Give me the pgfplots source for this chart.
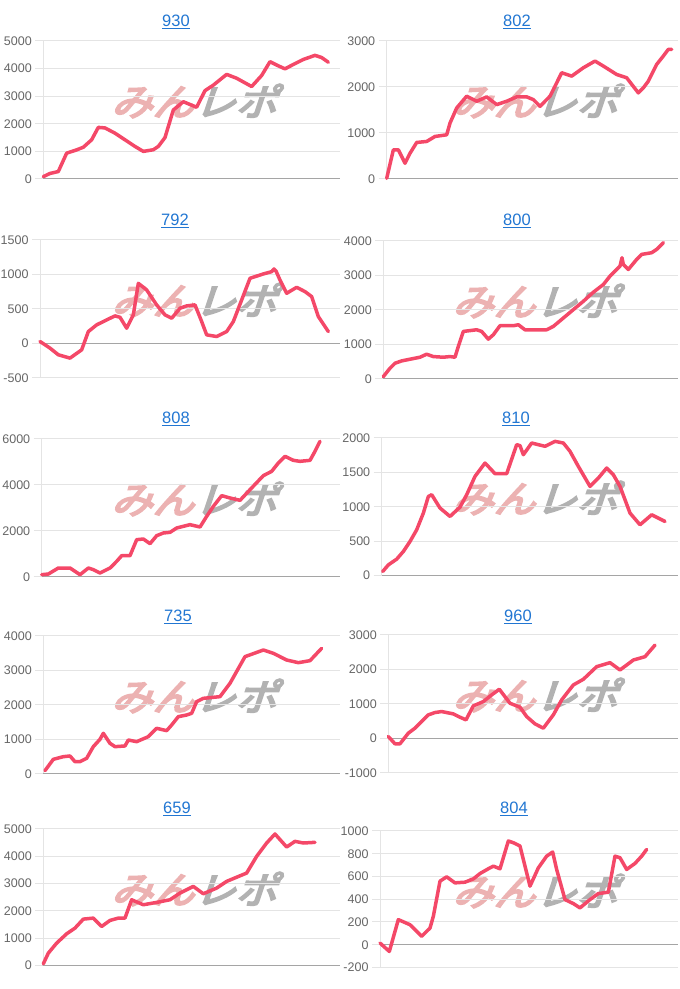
\documentclass[border=0pt]{standalone}
\usepackage{pgfplots}
\pgfplotsset{compat=1.18}
\usepackage{fontspec}
\setmainfont{Liberation Sans}
\newfontfamily\cjk[FakeBold=5,FakeSlant=0.3]{Noto Sans CJK JP}
\definecolor{gridc}{RGB}{228,228,228}
\definecolor{zeroc}{RGB}{165,165,165}
\definecolor{tickc}{RGB}{102,102,102}
\definecolor{lc}{RGB}{244,72,104}
\definecolor{titc}{RGB}{33,118,210}
\definecolor{wmp}{RGB}{236,178,178}
\definecolor{wmg}{RGB}{178,178,178}
\newcommand{\ticks}{\fontsize{12.5}{14}\selectfont}
\newcommand{\tit}[1]{{\fontsize{16.5}{18}\selectfont\color{titc}\underline{#1}}}
\newcommand{\wm}{{\cjk\fontsize{37}{40}\selectfont\textcolor{wmp}{みん}\textcolor{wmg}{レポ}}}
\pgfplotsset{
  panel/.style={
    scale only axis, anchor=north west, clip=false,
    xtick=\empty,
    axis lines*=left,
    x axis line style={draw=none},
    y axis line style={draw=gridc, line width=1pt},
    ymajorgrids,
    grid style={draw=gridc, line width=1pt},
    major tick length=8pt, tick align=outside,
    ytick style={draw=gridc, line width=1pt},
    yticklabel style={font=\ticks, text=tickc},
    extra y ticks={0}, extra y tick labels={},
    extra y tick style={grid style={draw=zeroc, line width=1pt}},
    /pgf/number format/assume math mode=true,
    /pgf/number format/1000 sep={},
    scaled y ticks=false,
  },
  ser/.style={draw=lc, line width=3.5pt, line join=round, line cap=round, mark=none},
}
\begin{document}
\begin{tikzpicture}
\useasboundingbox (0pt,0pt) rectangle (680pt,989pt);
% watermarks
\foreach \yy in {101,300,499,696,889} {\node[xscale=1.12] at (194pt,989pt-\yy pt) {\wm};}
\foreach \yy in {101,301,498,695,891} {\node[xscale=1.12] at (535pt,989pt-\yy pt) {\wm};}
% titles
\node at (176pt,967pt) {\tit{930}};
\node at (517pt,967pt) {\tit{802}};
\node at (175pt,768pt) {\tit{792}};
\node at (517pt,768pt) {\tit{800}};
\node at (176pt,570pt) {\tit{808}};
\node at (516pt,570pt) {\tit{810}};
\node at (178pt,372pt) {\tit{735}};
\node at (518pt,372pt) {\tit{960}};
\node at (177pt,180pt) {\tit{659}};
\node at (514pt,180pt) {\tit{804}};

% 930
\begin{axis}[panel, at={(43.3pt,948pt)}, width=296.7pt, height=138pt,
  xmin=130, xmax=1020, ymin=0, ymax=5000, ytick={0,1000,...,5000}]
\addplot[ser] coordinates {(130,85)(150,200)(175,270)(200,935)(230,1055)(250,1150)(275,1420)(295,1870)(315,1850)(345,1660)(375,1420)(405,1180)(430,1000)(460,1060)(475,1180)(495,1500)(520,2500)(550,2800)(570,2700)(590,2600)(615,3200)(640,3400)(680,3790)(710,3650)(740,3450)(755,3350)(785,3750)(810,4250)(835,4100)(855,3990)(880,4150)(910,4330)(945,4480)(965,4400)(985,4230)};
\end{axis}
% 802
\begin{axis}[panel, at={(386.7pt,948pt)}, width=291.3pt, height=138pt,
  xmin=140, xmax=1014, ymin=0, ymax=3000, ytick={0,1000,...,3000}]
\addplot[ser] coordinates {(140,15)(160,634)(175,634)(195,342)(210,560)(230,794)(260,816)(285,925)(320,961)(330,1216)(350,1544)(380,1800)(410,1690)(440,1785)(470,1617)(500,1690)(530,1785)(560,1785)(580,1726)(600,1580)(630,1800)(645,2018)(665,2310)(695,2236)(730,2418)(765,2564)(790,2455)(830,2272)(860,2200)(895,1872)(910,1981)(925,2127)(950,2491)(970,2673)(985,2818)(995,2818)};
\end{axis}
% 792
\begin{axis}[panel, at={(40pt,749pt)}, width=300pt, height=138pt,
  xmin=120, xmax=1020, ymin=-500, ymax=1500, ytick={-500,0,...,1500}]
\addplot[ser] coordinates {(120,29)(150,-67)(175,-164)(210,-212)(245,-92)(265,173)(290,270)(320,342)(345,400)(360,380)(380,222)(400,415)(415,872)(440,776)(470,559)(495,415)(515,366)(540,511)(560,545)(585,559)(605,318)(620,125)(650,101)(680,173)(700,318)(725,631)(750,945)(790,1008)(815,1041)(822,1080)(828,1050)(840,920)(860,728)(890,814)(915,752)(935,680)(955,390)(985,173)};
\end{axis}
% 800
\begin{axis}[panel, at={(383.3pt,748pt)}, width=294.7pt, height=138pt,
  xmin=130, xmax=1014, ymin=0, ymax=4000, ytick={0,1000,...,4000}]
\addplot[ser] coordinates {(130,68)(150,311)(165,456)(185,524)(210,573)(240,631)(260,718)(280,650)(310,631)(330,650)(345,631)(355,942)(370,1379)(410,1427)(425,1379)(445,1155)(460,1282)(480,1544)(520,1544)(535,1573)(555,1427)(620,1427)(640,1524)(670,1767)(700,2010)(730,2252)(760,2515)(790,2738)(810,2981)(840,3272)(846,3515)(850,3320)(865,3175)(890,3466)(905,3612)(935,3660)(950,3757)(970,3951)};
\end{axis}
% 808
\begin{axis}[panel, at={(41.7pt,550pt)}, width=298.3pt, height=138pt,
  xmin=125, xmax=1020, ymin=0, ymax=6000, ytick={0,2000,...,6000}]
\addplot[ser] coordinates {(125,101)(145,130)(175,391)(210,391)(240,101)(265,391)(280,319)(300,174)(330,391)(350,681)(365,927)(390,927)(410,1623)(430,1652)(450,1449)(470,1797)(490,1913)(510,1942)(530,2130)(570,2275)(600,2174)(620,2638)(640,3072)(665,3536)(690,3435)(720,3333)(750,3797)(790,4406)(815,4594)(835,4957)(855,5246)(880,5072)(900,5029)(930,5072)(945,5464)(960,5899)};
\end{axis}
% 810
\begin{axis}[panel, at={(381.7pt,551pt)}, width=296.3pt, height=137.5pt,
  xmin=125, xmax=1014, ymin=0, ymax=2000, ytick={0,500,...,2000}]
\addplot[ser] coordinates {(128,58)(145,155)(170,238)(190,350)(210,495)(230,665)(250,908)(265,1150)(275,1175)(300,981)(330,859)(360,995)(380,1175)(405,1442)(435,1636)(465,1481)(500,1481)(530,1903)(540,1888)(550,1757)(575,1927)(615,1879)(645,1951)(670,1927)(690,1806)(715,1587)(750,1296)(775,1417)(800,1563)(820,1466)(840,1296)(870,908)(900,738)(935,883)(975,786)};
\end{axis}
% 735
\begin{axis}[panel, at={(43.3pt,353pt)}, width=296.7pt, height=138pt,
  xmin=130, xmax=1020, ymin=0, ymax=4000, ytick={0,1000,...,4000}]
\addplot[ser] coordinates {(135,97)(160,425)(190,502)(210,522)(225,357)(240,357)(260,454)(280,792)(300,1005)(310,1179)(330,889)(345,792)(375,812)(385,985)(410,937)(445,1082)(470,1324)(500,1256)(515,1420)(535,1662)(560,1710)(575,1758)(590,2097)(610,2193)(660,2242)(690,2628)(735,3401)(790,3594)(820,3498)(860,3304)(895,3227)(930,3285)(965,3643)};
\end{axis}
% 960
\begin{axis}[panel, at={(388.3pt,354pt)}, width=289.7pt, height=138pt,
  xmin=145, xmax=1014, ymin=-1000, ymax=3000, ytick={-1000,0,...,3000}]
\addplot[ser] coordinates {(145,58)(165,-154)(180,-154)(205,154)(225,299)(265,684)(285,752)(305,781)(340,713)(360,617)(378,540)(400,945)(430,1070)(455,1263)(478,1427)(510,1022)(540,906)(560,636)(585,424)(610,299)(640,684)(665,1118)(700,1552)(730,1716)(770,2082)(810,2198)(840,1986)(860,2130)(880,2275)(915,2371)(945,2708)};
\end{axis}
% 659
\begin{axis}[panel, at={(43.3pt,160pt)}, width=296.7pt, height=136.5pt,
  xmin=130, xmax=1020, ymin=0, ymax=5000, ytick={0,1000,...,5000}]
\addplot[ser] coordinates {(130,61)(145,452)(170,819)(200,1161)(225,1369)(250,1699)(280,1736)(305,1430)(330,1650)(355,1736)(375,1736)(395,2408)(430,2225)(470,2311)(510,2408)(540,2653)(580,2897)(610,2628)(650,2836)(680,3081)(740,3386)(770,3998)(800,4487)(825,4817)(860,4340)(885,4548)(910,4487)(945,4511)};
\end{axis}
% 804
\begin{axis}[panel, at={(380pt,158pt)}, width=298pt, height=136.5pt,
  xmin=120, xmax=1014, ymin=-200, ymax=1000, ytick={-200,0,...,1000}]
\addplot[ser] coordinates {(120,15)(148,-59)(175,221)(210,176)(245,74)(270,147)(280,250)(300,559)(320,597)(345,544)(375,550)(400,579)(420,626)(445,668)(460,691)(480,668)(505,912)(520,897)(540,868)(555,691)(570,515)(595,676)(620,779)(638,815)(650,662)(675,397)(700,362)(720,324)(750,397)(775,450)(805,462)(825,779)(840,765)(860,662)(885,715)(905,779)(920,838)};
\end{axis}
\end{tikzpicture}
\end{document}
